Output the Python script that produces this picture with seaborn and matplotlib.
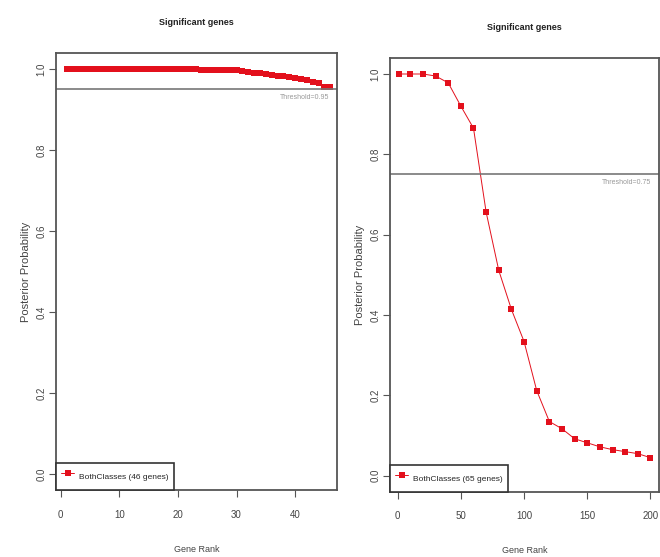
import pandas as pd
import seaborn as sns
import matplotlib.pyplot as plt

# left panel: 46 genes
left_rank = list(range(1, 47))
left_prob = [1.0, 1.0, 1.0, 1.0, 1.0, 1.0, 1.0, 1.0, 1.0, 1.0,
             1.0, 1.0, 1.0, 1.0, 1.0, 1.0, 1.0, 1.0, 1.0, 1.0,
             1.0, 1.0, 1.0, 0.999, 0.999, 0.999, 0.999, 0.999, 0.998, 0.997,
             0.995, 0.993, 0.991, 0.990, 0.988, 0.986, 0.984, 0.982, 0.980, 0.978,
             0.975, 0.972, 0.969, 0.966, 0.957, 0.955]
left_threshold = 0.95
left_label = "BothClasses (46 genes)"

# right panel
right_rank = [1, 10, 20, 30, 40, 50, 60, 70, 80, 90, 100,
              110, 120, 130, 140, 150, 160, 170, 180, 190, 200]
right_prob = [1.0, 1.0, 1.0, 0.995, 0.978, 0.92, 0.865, 0.656, 0.511, 0.414, 0.334,
              0.212, 0.135, 0.117, 0.092, 0.082, 0.072, 0.065, 0.06, 0.055, 0.045]
right_threshold = 0.75
right_label = "BothClasses (65 genes)"

sns.set_theme(style="white")
plt.rcParams['font.family'] = ['Liberation Sans', 'DejaVu Sans']

red = "#e3101c"
frame = "#555555"

fig = plt.figure(figsize=(6.6, 5.57), dpi=100)
ax1 = fig.add_axes([0.085, 0.120, 0.426, 0.785])
ax2 = fig.add_axes([0.591, 0.117, 0.408, 0.779])


def panel(ax, x, y, thr, label, xlim, xticks):
    df = pd.DataFrame({"rank": x, "prob": y})
    sns.lineplot(data=df, x="rank", y="prob", ax=ax, color=red, marker="s",
                 markersize=5, markeredgewidth=0, linewidth=0.7, label=label)
    ax.axhline(thr, color="#777777", linewidth=1.2)
    ax.text(xlim[1] - (xlim[1] - xlim[0]) * 0.03, thr - 0.012, f"Threshold={thr}",
            ha="right", va="top", fontsize=5, color="#999999")
    ax.set_xlim(*xlim)
    ax.set_ylim(-0.04, 1.04)
    ax.set_xticks(xticks)
    ax.set_yticks([0.0, 0.2, 0.4, 0.6, 0.8, 1.0])
    ax.set_yticklabels(["0.0", "0.2", "0.4", "0.6", "0.8", "1.0"], rotation=90, va="center")
    ax.tick_params(axis="both", direction="out", length=5, width=0.8, color=frame,
                   labelsize=7, labelcolor="#444444", bottom=True, left=True)
    ax.tick_params(axis="x", pad=9)
    ax.tick_params(axis="y", pad=2)
    for s in ax.spines.values():
        s.set_color(frame)
        s.set_linewidth(1.3)
    ax.set_xlabel("Gene Rank", fontsize=6.5, color="#444444", labelpad=18)
    ax.set_ylabel("Posterior Probability", fontsize=8, color="#444444", labelpad=4)
    ax.set_title("Significant genes", fontsize=6.5, fontweight="bold", color="#222222", pad=20)
    leg = ax.legend(loc="lower left", borderaxespad=0, fancybox=False, fontsize=6,
                    handlelength=1.6, handleheight=2.8, handletextpad=0.6,
                    borderpad=0.6, framealpha=1)
    leg.get_frame().set_edgecolor("#333333")
    leg.get_frame().set_linewidth(1.2)


panel(ax1, left_rank, left_prob, left_threshold, left_label, (-0.8, 47.2), [0, 10, 20, 30, 40])
panel(ax2, right_rank, right_prob, right_threshold, right_label, (-6, 207), [0, 50, 100, 150, 200])

fig.savefig("out.png", dpi=100)
